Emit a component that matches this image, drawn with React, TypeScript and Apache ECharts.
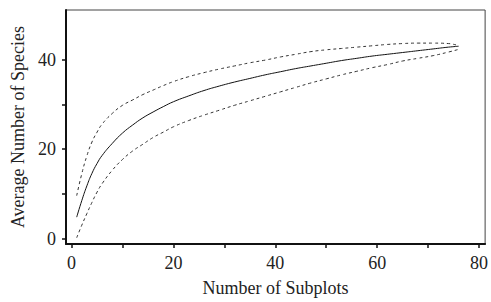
import React, { useEffect, useRef } from "react";
import * as echarts from "echarts";

const subplots = [1, 2, 3, 4, 5, 6, 8, 10, 12, 14, 16, 18, 20, 23, 26, 29, 32, 35, 38, 41, 44, 47, 50, 53, 56, 59, 62, 65, 68, 71, 74, 76];
const meanSpecies = [4.8, 8.5, 11.8, 14.6, 16.8, 18.6, 21.3, 23.6, 25.4, 27.0, 28.3, 29.5, 30.6, 31.9, 33.1, 34.1, 35.0, 35.8, 36.6, 37.3, 38.0, 38.6, 39.2, 39.8, 40.3, 40.8, 41.2, 41.6, 42.0, 42.4, 42.8, 43.0];
const upperCI = [9.6, 14.5, 18.5, 21.6, 23.8, 25.6, 28.0, 29.8, 31.0, 32.2, 33.2, 34.2, 35.1, 36.2, 37.1, 37.9, 38.6, 39.3, 39.9, 40.6, 41.2, 41.8, 42.2, 42.5, 42.8, 43.1, 43.4, 43.6, 43.7, 43.7, 43.6, 43.1];
const lowerCI = [0.2, 3.0, 5.6, 8.1, 10.4, 12.3, 15.3, 17.7, 19.6, 21.1, 22.6, 23.8, 25.0, 26.4, 27.6, 28.7, 29.8, 30.8, 31.8, 32.8, 33.8, 34.8, 35.7, 36.6, 37.4, 38.2, 38.9, 39.7, 40.3, 40.9, 41.7, 42.3];

const xLabelValues = [0, 20, 40, 60, 80];
const xTickValues = [0, 10, 20, 30, 40, 50, 60, 70, 80];
const yLabelValues = [0, 20, 40];
const yTickValues = [0, 10, 20, 30, 40];

const FONT = "'Liberation Serif', 'Times New Roman', serif";

export default function App() {
  const ref = useRef<HTMLDivElement>(null);
  useEffect(() => {
    if (!ref.current) return;
    const chart = echarts.init(ref.current, null, { renderer: "svg" });
    const pairs = (ys: number[]) => subplots.map((x, i) => [x, ys[i]]);
    chart.setOption({
      animation: false,
      backgroundColor: "#fff",
      grid: {
        left: 66,
        right: 5,
        top: 10,
        bottom: 54,
        show: true,
        borderColor: "#444",
        borderWidth: 1,
      },
      xAxis: {
        type: "value",
        min: -1.1,
        max: 81.2,
        name: "Number of Subplots",
        nameLocation: "middle",
        nameGap: 35,
        nameTextStyle: { fontFamily: FONT, fontSize: 18, color: "#222" },
        axisLine: { show: true, onZero: false, lineStyle: { color: "#111", width: 2 } },
        axisTick: { show: true, length: 4, customValues: xTickValues, lineStyle: { color: "#111", width: 1.5 } },
        axisLabel: { customValues: xLabelValues, margin: 10, fontFamily: FONT, fontSize: 18, color: "#222" },
        splitLine: { show: false },
      },
      yAxis: {
        type: "value",
        min: -1.2,
        max: 51.1,
        name: "Average Number of Species",
        nameLocation: "middle",
        nameGap: 31,
        nameTextStyle: { fontFamily: FONT, fontSize: 18, color: "#222" },
        axisLine: { show: true, onZero: false, lineStyle: { color: "#111", width: 2 } },
        axisTick: { show: true, length: 4, customValues: yTickValues, lineStyle: { color: "#111", width: 1.5 } },
        axisLabel: { customValues: yLabelValues, margin: 10, fontFamily: FONT, fontSize: 18, color: "#222" },
        splitLine: { show: false },
      },
      series: [
        {
          type: "line",
          data: pairs(upperCI),
          smooth: true,
          showSymbol: false,
          lineStyle: { color: "#333", width: 1, type: [3, 3] },
        },
        {
          type: "line",
          data: pairs(meanSpecies),
          smooth: true,
          showSymbol: false,
          lineStyle: { color: "#111", width: 1 },
        },
        {
          type: "line",
          data: pairs(lowerCI),
          smooth: true,
          showSymbol: false,
          lineStyle: { color: "#333", width: 1, type: [3, 3] },
        },
      ],
    });
    return () => chart.dispose();
  }, []);
  return <div ref={ref} style={{ width: 491, height: 302, position: "absolute", left: 0, top: 0 }} />;
}
